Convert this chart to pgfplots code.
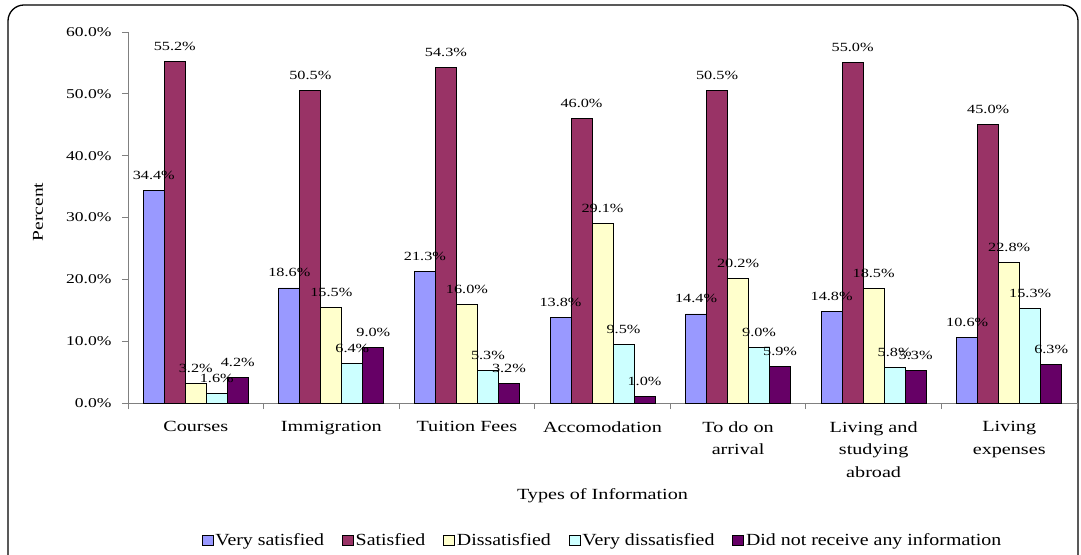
\documentclass[border=0pt]{standalone}
\usepackage{fontspec}
\setmainfont{Liberation Serif}
\newfontfamily\wide{Liberation Serif}[FakeStretch=1.3]
\newfontfamily\legfont{Liberation Serif}[FakeStretch=1.17]
\usepackage{pgfplots}
\pgfplotsset{compat=1.18}
\definecolor{cA}{HTML}{9999FF}
\definecolor{cB}{HTML}{993366}
\definecolor{cC}{HTML}{FFFFCC}
\definecolor{cD}{HTML}{CCFFFF}
\definecolor{cE}{HTML}{660066}
\definecolor{axgray}{HTML}{808080}
\pgfplotstableread{
x vs s d vd none
0 34.4 55.2 3.2 1.6 4.2
1 18.6 50.5 15.5 6.4 9.0
2 21.3 54.3 16.0 5.3 3.2
3 13.8 46.0 29.1 9.5 1.0
4 14.4 50.5 20.2 9.0 5.9
5 14.8 55.0 18.5 5.8 5.3
6 10.6 45.0 22.8 15.3 6.3
}\datatable
\begin{document}
\begin{tikzpicture}[x=1pt,y=1pt]
\useasboundingbox (0,0) rectangle (1081,554);
\draw[line width=1.3pt, rounded corners=16pt] (8,-30) rectangle (1078,549);
\begin{axis}[
  at={(128pt,151pt)}, anchor=south west,
  scale only axis, width=949pt, height=371pt,
  xmin=-0.5, xmax=6.5, ymin=0, ymax=60,
  ybar=0pt, bar width=21pt,
  axis x line*=bottom, axis y line*=left,
  axis line style={draw=axgray, line width=0.9pt, -},
  /pgf/number format/assume math mode=true,
  ytick={0,10,...,60},
  yticklabels={0.0\%,10.0\%,20.0\%,30.0\%,40.0\%,50.0\%,60.0\%},
  yticklabel style={font=\wide\fontsize{13.5}{15}\selectfont, xshift=-7pt},
  xtick={0,...,6},
  xticklabels={Courses, Immigration, Tuition Fees, Accomodation, To do on\\arrival, Living and\\studying\\abroad, Living\\expenses},
  xticklabel style={font=\wide\fontsize{15.5}{22.5}\selectfont, align=center, yshift=-9pt},
  major x tick style={draw=none},
  minor xtick={-0.5,0.5,...,6.5},
  minor x tick style={draw=axgray, line width=0.9pt},
  major y tick style={draw=axgray, line width=0.9pt},
  tick align=outside,
  major tick length=6pt, minor tick length=6pt,
  xlabel={Types of Information},
  xlabel style={font=\wide\fontsize{15.5}{17}\selectfont, at={(axis description cs:0.5,-0.2507)}, anchor=center},
  ylabel={Percent},
  ylabel style={font=\wide\fontsize{15}{17}\selectfont, at={(axis description cs:-0.0948,0.515)}, anchor=center, rotate=0},
  nodes near coords={\pgfmathprintnumber[fixed,fixed zerofill,precision=1]{\pgfplotspointmeta}\%},
  every node near coord/.append style={font=\wide\fontsize{12.5}{14}\selectfont, anchor=base, yshift=11pt},
  legend columns=5,
  legend style={draw=none, fill=none, at={(axis description cs:0.5,-0.369)}, anchor=center,
    font=\legfont\fontsize{17}{19}\selectfont,
    /tikz/every even column/.append style={column sep=16pt},
    /tikz/every odd column/.append style={column sep=0pt}},
  legend image code/.code={\draw[#1, draw=black, line width=0.6pt] (0pt,-5.5pt) rectangle (11pt,4.5pt);},
  every axis plot/.append style={draw=black, line width=0.9pt},
]
\addplot[fill=cA] table[x=x,y=vs] {\datatable};
\addplot[fill=cB] table[x=x,y=s] {\datatable};
\addplot[fill=cC] table[x=x,y=d] {\datatable};
\addplot[fill=cD] table[x=x,y=vd] {\datatable};
\addplot[fill=cE] table[x=x,y=none] {\datatable};
\legend{Very satisfied, Satisfied, Dissatisfied, Very dissatisfied, Did not receive any information}
\end{axis}
\end{tikzpicture}
\end{document}
